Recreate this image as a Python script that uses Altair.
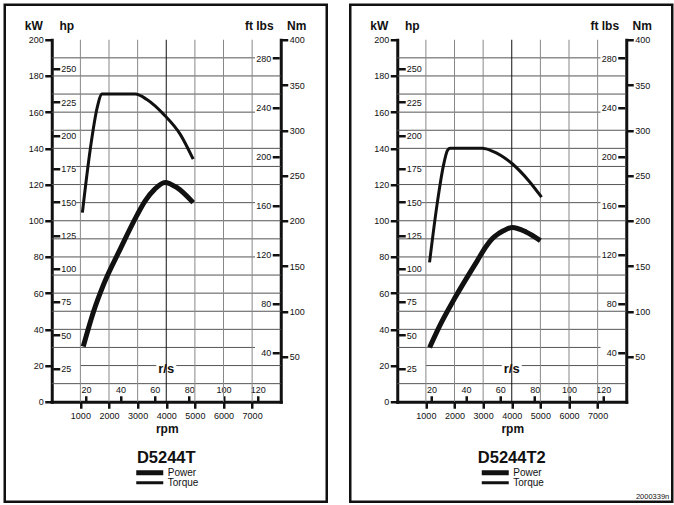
import altair as alt
import pandas as pd

# ---------------- data ----------------
rpm_grid_minor = [1000, 2000, 3000, 5000, 6000, 7000]
rpm_grid_major = [4000]
kw_grid_level = [10, 20, 20, 30, 40, 50, 60, 70, 80, 90, 100, 110, 120, 130, 140, 150, 160, 170, 180, 190]
kw_grid_start = [0, 1000, 4350, 0, 0, 0, 0, 0, 0, 0, 0, 850, 0, 850, 0, 0, 0, 0, 0, 0]
kw_grid_end = [8000, 3650, 8000, 7100, 8000, 8000, 8000, 8000, 7100, 8000, 8000, 7100, 8000, 8000, 8000, 8000, 7100, 8000, 8000, 7100]

kw_ticks = [0, 20, 40, 60, 80, 100, 120, 140, 160, 180, 200]
hp_ticks = [25, 50, 75, 100, 125, 150, 175, 200, 225, 250]
ftlb_ticks = [40, 80, 120, 160, 200, 240, 280]
nm_ticks = [50, 100, 150, 200, 250, 300, 350, 400]
rpm_ticks = [1000, 2000, 3000, 4000, 5000, 6000, 7000]
rs_ticks = [20, 40, 60, 80, 100, 120]

# D5244T
a_power_rpm = [1100, 1470, 1816, 2396, 2975, 3264, 3600, 3958, 4365, 4941]
a_power_kw = [30.5, 50.3, 65, 84.5, 103, 111, 117.5, 121.2, 118.4, 110]
a_torque_rpm = [1070, 1354, 1587, 1760, 2917, 3323, 3958, 4479, 4941]
a_torque_nm = [209, 281, 325, 340, 340, 334, 316, 296, 268]

# D5244T2
b_power_rpm = [1130, 1500, 2000, 2450, 2800, 3090, 3300, 3550, 3800, 4020, 4500, 5000]
b_power_kw = [30, 42.5, 57, 69, 78, 85.5, 89.8, 93, 95.2, 96.3, 93.8, 89]
b_torque_rpm = [1128, 1400, 1620, 1760, 1850, 2970, 3319, 4017, 4600, 5042]
b_torque_nm = [154, 220, 262, 278, 280, 280, 277, 263, 244, 226]

FONT = "Liberation Sans"
INK = "#111111"
W, H = 229, 362
HP_KW = 0.7355
FTLB_NM = 1.35582
LBL = 9

one_row = pd.DataFrame({"k": [0]})


def panel(name, p_rpm, p_kw, t_rpm, t_nm, code=None):
    x_rpm = alt.Scale(domain=[0, 8000], nice=False, zero=False)
    y_kw = alt.Scale(domain=[0, 200], nice=False)
    y_hp = alt.Scale(domain=[0, 200 / HP_KW], nice=False)
    y_ft = alt.Scale(domain=[0, 400 / FTLB_NM], nice=False)
    y_nm = alt.Scale(domain=[0, 400], nice=False)

    sw = alt.StrokeWidth(
        "series:N",
        scale=alt.Scale(domain=["Power", "Torque"], range=[5, 3]),
        legend=alt.Legend(
            orient="none", legendX=82, legendY=428, title=None,
            symbolType="stroke", symbolSize=729, symbolStrokeColor=INK,
            labelFont=FONT, labelFontSize=10, labelColor=INK, labelOffset=2,
            rowPadding=0, padding=0, clipHeight=10,
        ),
    )

    hgrid = alt.Chart(pd.DataFrame({"level": kw_grid_level, "start": kw_grid_start, "end": kw_grid_end})).mark_rule(
        color="#555555", strokeWidth=1
    ).encode(
        x=alt.X("start:Q", scale=x_rpm, axis=None),
        x2="end:Q",
        y=alt.Y("level:Q", scale=y_kw, axis=None),
    )
    vgrid = alt.Chart(pd.DataFrame({"rpm": rpm_grid_minor})).mark_rule(color="#888888", strokeWidth=1).encode(
        x=alt.X("rpm:Q", scale=x_rpm, axis=None),
        y=alt.Y(datum=0, scale=y_kw, axis=None),
        y2=alt.datum(200),
    )
    vmajor = alt.Chart(pd.DataFrame({"rpm": rpm_grid_major})).mark_rule(color=INK, strokeWidth=1).encode(
        x=alt.X("rpm:Q", scale=x_rpm, axis=None),
        y=alt.Y(datum=0, scale=y_kw, axis=None),
        y2=alt.datum(200),
    )

    power = alt.Chart(pd.DataFrame({"rpm": p_rpm, "value": p_kw, "series": "Power"})).mark_line(
        color=INK, interpolate="monotone", strokeCap="butt"
    ).encode(
        x=alt.X("rpm:Q", scale=x_rpm, axis=alt.Axis(
            orient="bottom", values=rpm_ticks, format="d", tickSize=6.5, tickWidth=2.5,
            domainWidth=3, domainCap="square", labelPadding=3, labelFontSize=LBL,
            title="rpm", titleX=115, titleY=31, titleAlign="center", titleBaseline="alphabetic",
            titleFontSize=12, titleFontWeight="bold")),
        y=alt.Y("value:Q", scale=y_kw, axis=alt.Axis(
            orient="left", values=kw_ticks, format="d", tickSize=7, tickWidth=2.5,
            domainWidth=3, domainCap="square", labelPadding=1.5, labelFontSize=LBL,
            title="kW", titleAngle=0, titleX=-18.5, titleY=-10, titleAlign="center",
            titleBaseline="alphabetic", titleFontSize=12, titleFontWeight="bold")),
        strokeWidth=sw,
    )

    torque = alt.Chart(pd.DataFrame({"rpm": t_rpm, "value": t_nm, "series": "Torque"})).mark_line(
        color=INK, interpolate="monotone", strokeCap="butt"
    ).encode(
        x=alt.X("rpm:Q", scale=x_rpm, axis=None),
        y=alt.Y("value:Q", scale=y_nm, axis=alt.Axis(
            orient="right", values=nm_ticks, format="d", tickSize=7, tickWidth=2.5,
            domainWidth=3, domainCap="square", labelPadding=1.5, labelFontSize=LBL,
            title="Nm", titleAngle=0, titleX=15.5, titleY=-10, titleAlign="center",
            titleBaseline="alphabetic", titleFontSize=12, titleFontWeight="bold")),
        strokeWidth=sw,
    )

    hp_axis = alt.Chart(pd.DataFrame({"hp": hp_ticks})).mark_point(opacity=0).encode(
        x=alt.X(datum=4000, scale=x_rpm, axis=None),
        y=alt.Y("hp:Q", scale=y_hp, axis=alt.Axis(
            orient="right", offset=-228, values=hp_ticks, format="d", tickSize=7, tickWidth=2.5,
            domain=False, labelPadding=1, labelFontSize=LBL,
            title="hp", titleAngle=0, titleX=13.5, titleY=-10, titleAlign="center",
            titleBaseline="alphabetic", titleFontSize=12, titleFontWeight="bold")),
    )
    ft_axis = alt.Chart(pd.DataFrame({"ft": ftlb_ticks})).mark_point(opacity=0).encode(
        x=alt.X(datum=4000, scale=x_rpm, axis=None),
        y=alt.Y("ft:Q", scale=y_ft, axis=alt.Axis(
            orient="left", offset=-227.5, values=ftlb_ticks, format="d", tickSize=7, tickWidth=2.5,
            domain=False, labelPadding=1.5, labelFontSize=LBL,
            title="ft lbs", titleAngle=0, titleX=-20.5, titleY=-10, titleAlign="center",
            titleBaseline="alphabetic", titleFontSize=12, titleFontWeight="bold")),
    )
    # r/s ticks placed on the rpm scale (1 r/s = 60 rpm)
    rs_axis = alt.Chart(pd.DataFrame({"rs": rs_ticks})).transform_calculate(
        rpm="datum.rs * 60"
    ).mark_point(opacity=0).encode(
        x=alt.X("rpm:Q", scale=x_rpm, axis=alt.Axis(
            orient="top", offset=-362, values=[v * 60 for v in rs_ticks],
            labelExpr="format(datum.value / 60, 'd')", tickSize=6, tickWidth=2.5,
            domain=False, labelPadding=1, labelFontSize=LBL, title=None)),
        y=alt.Y(datum=0, scale=y_kw, axis=None),
    )

    rs_label = alt.Chart(one_row).mark_text(
        text="r/s", font=FONT, fontSize=13, fontWeight="bold", color=INK, baseline="alphabetic"
    ).encode(x=alt.X(datum=4000, scale=x_rpm, axis=None), y=alt.value(333))

    name_label = alt.Chart(one_row).mark_text(
        text=name, font=FONT, fontSize=16.5, fontWeight="bold", color=INK, baseline="alphabetic"
    ).encode(x=alt.X(datum=4000, scale=x_rpm, axis=None), y=alt.value(423))

    frame = alt.Chart(one_row).mark_rect(filled=False, color=INK, strokeWidth=2.5).encode(
        x=alt.value(-47), x2=alt.value(275), y=alt.value(-35), y2=alt.value(462)
    )

    layers = [hgrid, vgrid, vmajor, power, torque, hp_axis, ft_axis, rs_axis, rs_label, name_label, frame]
    if code:
        layers.append(
            alt.Chart(one_row).mark_text(
                text=code, font=FONT, fontSize=7.5, color=INK, align="right", baseline="alphabetic"
            ).encode(x=alt.value(272), y=alt.value(459))
        )
    return alt.layer(*layers, width=W, height=H).resolve_scale(
        y="independent"
    ).resolve_axis(x="independent", y="independent")


left = panel("D5244T", a_power_rpm, a_power_kw, a_torque_rpm, a_torque_nm)
right = panel("D5244T2", b_power_rpm, b_power_kw, b_torque_rpm, b_torque_nm, code="2000339n")

chart = alt.hconcat(left, right, spacing=19.5).resolve_scale(
    strokeWidth="independent"
).resolve_legend(strokeWidth="independent").configure_view(stroke=None).configure_axis(
    grid=False, labelFlush=False, labelOverlap=False, labelFont=FONT, titleFont=FONT,
    labelColor=INK, titleColor=INK, tickColor=INK, domainColor=INK,
).properties(padding={"left": 2.75, "top": 2.75, "right": 0, "bottom": 0}, background="white")

chart.save("out.html", embed_options={"renderer": "svg", "actions": False})
